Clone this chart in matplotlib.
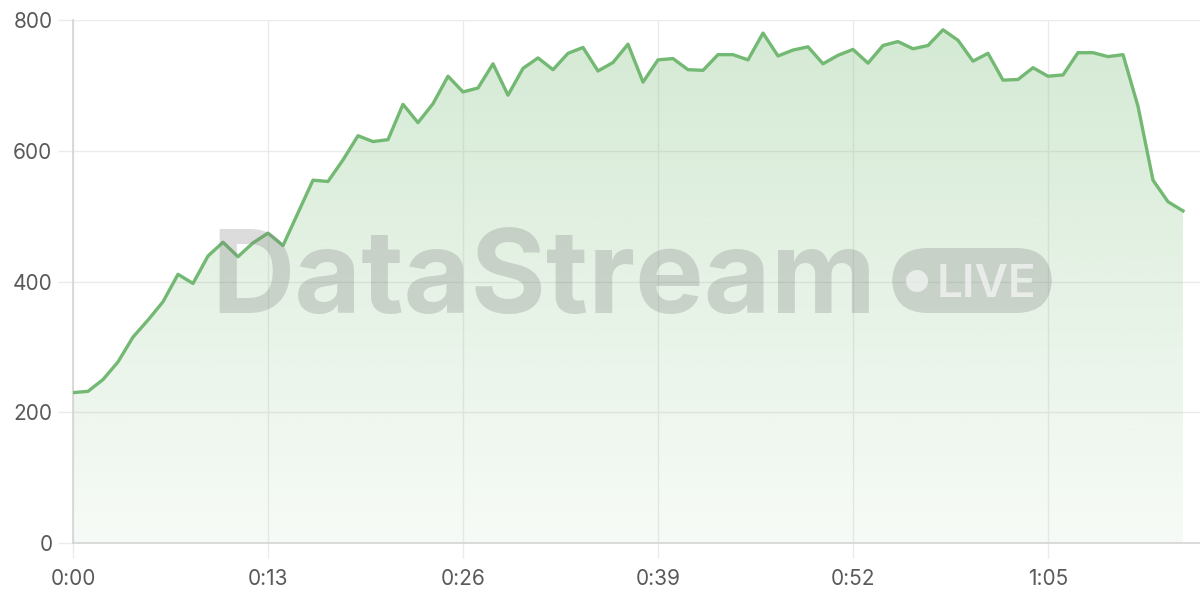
import numpy as np
import matplotlib

matplotlib.use("Agg")

import matplotlib.pyplot as plt
from matplotlib.colors import to_rgb
from matplotlib.patches import FancyBboxPatch, Ellipse

# throughput sampled once per second
values = [
    230, 232, 250, 277, 315, 341, 369, 411, 397, 439,
    460, 438, 459, 474, 455, 505, 555, 553, 586, 623,
    614, 617, 671, 643, 672, 714, 690, 696, 733, 685,
    726, 742, 724, 749, 758, 722, 735, 763, 705, 739,
    741, 724, 723, 747, 747, 739, 780, 745, 754, 759,
    733, 746, 755, 734, 761, 767, 756, 761, 785, 769,
    737, 749, 708, 709, 727, 714, 716, 750, 750, 744,
    747, 668, 555, 522, 508,
]
x_ticks = [0, 13, 26, 39, 52, 65]
x_tick_labels = ["0:00", "0:13", "0:26", "0:39", "0:52", "1:05"]
y_ticks = [0, 200, 400, 600, 800]

LINE_COLOR = "#73b973"
GRID_COLOR = "#ebebeb"
LABEL_COLOR = "#5a5a5a"
W, H = 1200, 600
X_MAX = 1127 / 15

plt.rcParams["font.family"] = ["Inter", "DejaVu Sans"]

seconds = np.arange(len(values))

fig = plt.figure(figsize=(12, 6), dpi=100)
ax = fig.add_axes([73 / W, 57 / H, 1127 / W, 523 / H])

# gradient fill under the line, darker at the top
rgb = np.array(to_rgb(LINE_COLOR))
grad = np.zeros((256, 1, 4))
grad[:, 0, :3] = rgb
grad[:, 0, 3] = np.linspace(0.31, 0.06, 256)
fill = ax.fill_between(seconds, values, 0, color="none", lw=0)
img = ax.imshow(
    grad,
    extent=[0, X_MAX, 0, 800],
    aspect="auto",
    origin="upper",
    zorder=2,
)
img.set_clip_path(fill.get_paths()[0], transform=ax.transData)
ax.set_xlim(0, X_MAX)
ax.set_ylim(0, 800)

ax.plot(seconds, values, color=LINE_COLOR, lw=2.4, zorder=5)

# watermark
wm_color = (0.47, 0.47, 0.47, 0.26)
fig.text(
    211 / W, 1 - 313 / H, "DataStream",
    fontsize=83, fontweight="bold", color=wm_color,
    ha="left", va="baseline", zorder=3,
)
badge = FancyBboxPatch(
    (892 / W, 1 - 313 / H), 160 / W, 65 / H,
    boxstyle="round,pad=0,rounding_size=0.03",
    transform=fig.transFigure, facecolor=wm_color, edgecolor="none",
    mutation_aspect=2, zorder=3,
)
fig.add_artist(badge)
dot = Ellipse(
    (917 / W, 1 - 281 / H), 22 / W, 22 / H,
    transform=fig.transFigure, facecolor=(1, 1, 1, 0.6), edgecolor="none", zorder=4,
)
fig.add_artist(dot)
fig.text(
    937 / W, 1 - 297 / H, "LIVE",
    fontsize=33, fontweight="semibold", color=(1, 1, 1, 0.6),
    ha="left", va="baseline", zorder=4,
)

ax.set_xticks(x_ticks)
ax.set_xticklabels(x_tick_labels)
ax.set_yticks(y_ticks)
ax.grid(True, color=GRID_COLOR, lw=1, zorder=0)
ax.set_axisbelow(True)
ax.tick_params(axis="both", length=10.8, width=1, color=GRID_COLOR,
               labelsize=15, labelcolor=LABEL_COLOR)
ax.tick_params(axis="y", pad=4)
ax.tick_params(axis="x", pad=8)

for side in ("top", "right"):
    ax.spines[side].set_visible(False)
ax.spines["left"].set_color("#d4d4d4")
ax.spines["bottom"].set_color("#d4d4d4")
ax.spines["left"].set_linewidth(1.2)
ax.spines["bottom"].set_linewidth(1.2)

fig.savefig("out.png", dpi=100)
